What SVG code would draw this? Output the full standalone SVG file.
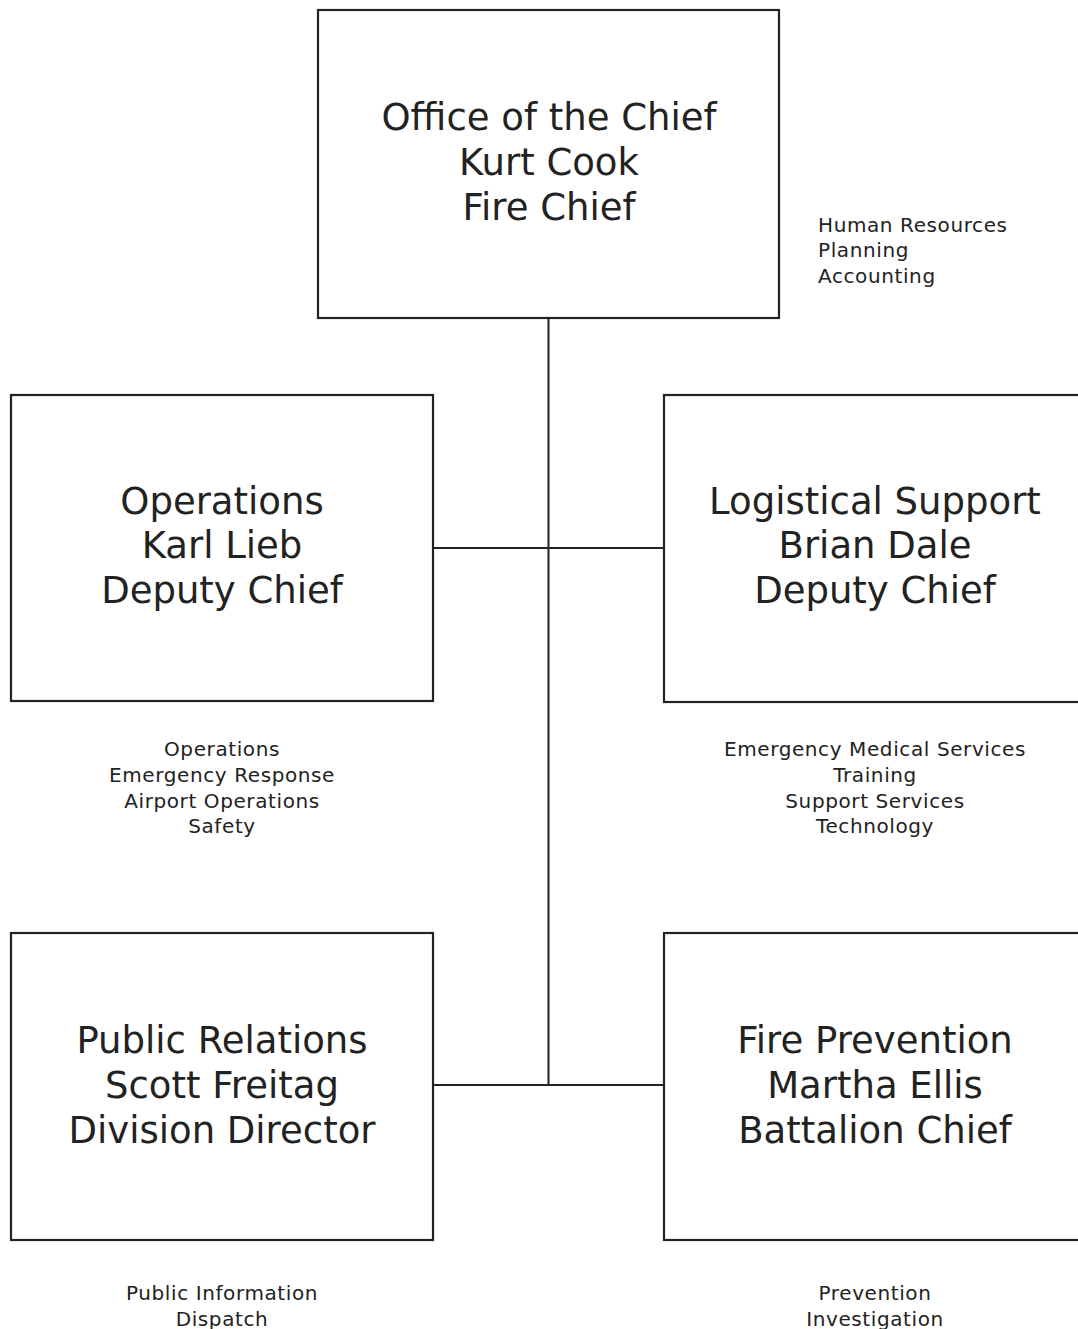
<svg xmlns="http://www.w3.org/2000/svg" width="1078" height="1329" viewBox="0 0 1078 1329">
<style>
.box{fill:#fff;stroke:#222;stroke-width:2.2}
.conn{stroke:#222;stroke-width:2;fill:none}
.big{font-family:"DejaVu Sans",Verdana,sans-serif;font-size:37px;fill:#222;text-anchor:middle}
.small{font-family:"DejaVu Sans",Verdana,sans-serif;font-size:20px;fill:#222;letter-spacing:0.6px}
.mid{text-anchor:middle}
</style>
<rect width="1078" height="1329" fill="#fff"/>
<g id="connectors">
<line class="conn" x1="548.5" y1="318" x2="548.5" y2="1085"/>
<line class="conn" x1="433" y1="548" x2="664" y2="548"/>
<line class="conn" x1="433" y1="1085" x2="664" y2="1085"/>
</g>
<g id="chief">
<rect class="box" x="318" y="10" width="461" height="308"/>
<text class="big" x="549" y="130">Office of the Chief</text>
<text class="big" x="549" y="175">Kurt Cook</text>
<text class="big" x="549" y="220">Fire Chief</text>
</g>
<g id="chief-units">
<text class="small" x="818" y="232">Human Resources</text>
<text class="small" x="818" y="257">Planning</text>
<text class="small" x="818" y="283">Accounting</text>
</g>
<g id="operations">
<rect class="box" x="11" y="395" width="422" height="306"/>
<text class="big" x="222" y="514">Operations</text>
<text class="big" x="222" y="558">Karl Lieb</text>
<text class="big" x="222" y="603">Deputy Chief</text>
</g>
<g id="operations-units">
<text class="small mid" x="222" y="756">Operations</text>
<text class="small mid" x="222" y="782">Emergency Response</text>
<text class="small mid" x="222" y="808">Airport Operations</text>
<text class="small mid" x="222" y="833">Safety</text>
</g>
<g id="logistics">
<rect class="box" x="664" y="395" width="422" height="307"/>
<text class="big" x="875" y="514">Logistical Support</text>
<text class="big" x="875" y="558">Brian Dale</text>
<text class="big" x="875" y="603">Deputy Chief</text>
</g>
<g id="logistics-units">
<text class="small mid" x="875" y="756">Emergency Medical Services</text>
<text class="small mid" x="875" y="782">Training</text>
<text class="small mid" x="875" y="808">Support Services</text>
<text class="small mid" x="875" y="833">Technology</text>
</g>
<g id="public-relations">
<rect class="box" x="11" y="933" width="422" height="307"/>
<text class="big" x="222" y="1053">Public Relations</text>
<text class="big" x="222" y="1098">Scott Freitag</text>
<text class="big" x="222" y="1143">Division Director</text>
</g>
<g id="public-relations-units">
<text class="small mid" x="222" y="1300">Public Information</text>
<text class="small mid" x="222" y="1326">Dispatch</text>
</g>
<g id="fire-prevention">
<rect class="box" x="664" y="933" width="422" height="307"/>
<text class="big" x="875" y="1053">Fire Prevention</text>
<text class="big" x="875" y="1098">Martha Ellis</text>
<text class="big" x="875" y="1143">Battalion Chief</text>
</g>
<g id="fire-prevention-units">
<text class="small mid" x="875" y="1300">Prevention</text>
<text class="small mid" x="875" y="1326">Investigation</text>
</g>
</svg>
